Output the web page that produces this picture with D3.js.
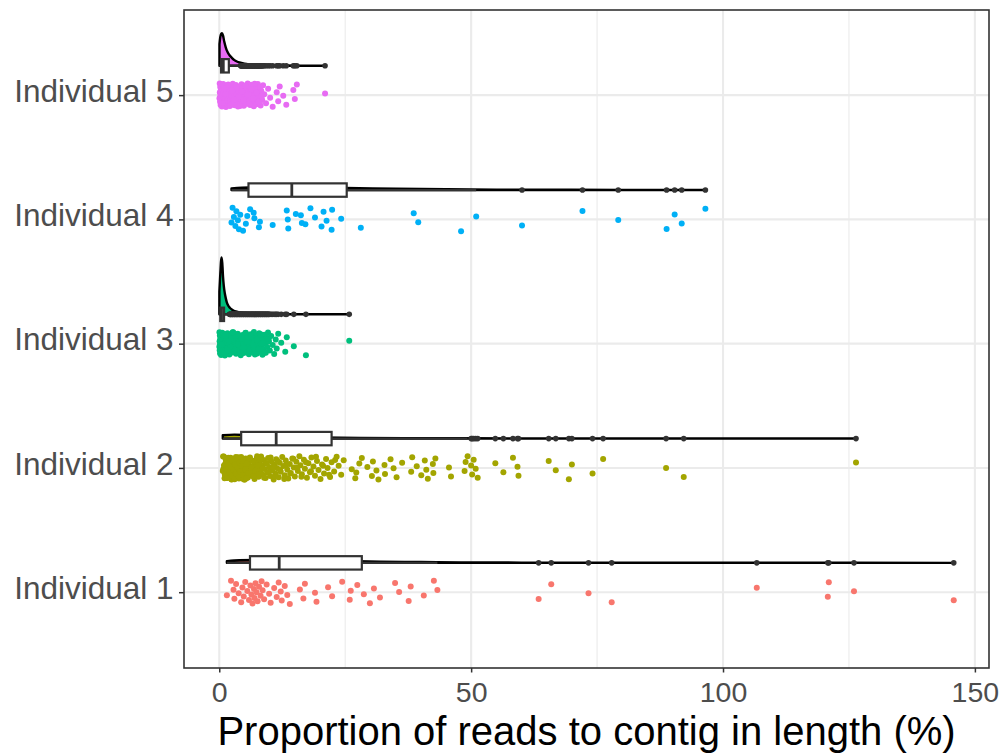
<!DOCTYPE html>
<html><head><meta charset="utf-8">
<script src="https://cdn.jsdelivr.net/npm/d3@7"></script>
<style>body{margin:0;background:#fff}svg{display:block}</style>
</head><body>
<svg id="chart" width="1002" height="755"></svg>
<script>
const categories = ["Individual 1","Individual 2","Individual 3","Individual 4","Individual 5"];
const groupColors = ["#F8766D","#A3A500","#00BF7D","#00B0F6","#E76BF3"];
const xTickValues = [0,50,100,150];
const xMinorValues = [25,75,125];
const xTitle = "Proportion of reads to contig in length (%)";

const values1 = [1.51,2.33,2.83,3.0,3.34,3.85,4.35,4.6,4.86,5.16,5.57,5.9,6.18,6.38,6.6,6.89,7.0,7.19,7.39,7.6,7.9,8.2,8.4,8.6,8.9,9.4,9.9,10.2,10.9,11.4,11.8,12.2,12.4,13.0,13.5,14.0,16.0,16.7,17.0,19.0,19.3,21.6,22.4,24.4,26.1,25.9,27.4,28.7,29.9,30.7,31.9,34.9,35.7,37.6,38.0,40.6,42.6,43.3,63.4,65.9,73.3,77.9,106.7,120.8,121.0,126.0,145.8];
const values2 = [0.7,0.9,1.0,1.1,1.3,1.3,1.4,1.6,1.7,1.8,1.9,2.0,2.1,2.2,2.4,2.5,2.5,2.7,2.8,2.9,3.0,3.2,3.3,3.4,3.5,3.7,3.8,3.9,4.0,4.2,4.3,4.4,4.6,4.7,4.8,5.0,5.1,5.3,5.4,5.5,5.7,5.8,6.0,6.1,6.3,6.5,6.6,6.8,7.0,7.1,7.3,7.4,7.6,7.8,8.0,8.1,8.3,8.5,8.7,8.8,9.0,9.2,9.4,9.6,9.7,9.9,10.1,10.3,10.5,10.8,11.0,11.2,11.3,11.5,11.8,12.0,12.2,12.5,12.7,13.0,13.2,13.5,13.7,14.0,14.2,14.5,14.8,15.0,15.3,15.6,15.9,16.1,16.4,16.8,17.0,17.4,17.7,18.0,18.3,18.7,19.0,19.4,19.7,20.1,20.4,20.8,21.2,21.5,22.0,22.3,22.8,23.3,23.7,24.2,24.7,
  0.8,1.05,1.2,1.45,1.55,1.75,1.95,2.15,2.3,2.45,2.6,2.75,2.95,3.1,3.25,3.45,3.6,3.75,3.95,4.1,4.25,4.5,4.65,4.9,5.05,5.25,5.45,5.6,5.85,6.2,
  0.75,0.95,1.15,1.35,1.5,1.65,1.85,2.05,2.25,2.35,2.55,2.65,2.85,3.05,3.15,3.35,3.55,3.65,3.85,4.05,4.15,4.35,4.55,4.75,4.85,5.15,5.35,5.5,5.75,5.95,6.4,6.7,6.9,7.2,7.5,7.7,7.9,8.2,8.6,8.9,9.3,9.8,10.2,10.7,11.1,11.6,12.1,12.9,13.4,14.1,14.7,15.5,16.3,17.2,18.2,19.2,20.6,21.8,23.0,
  26.3,27.0,27.8,27.2,28.3,29.4,30.3,30.5,31.2,31.6,32.8,32.9,34.0,34.6,35.2,36.3,38.1,38.3,39.2,40.1,40.8,41.1,41.4,42.4,42.5,42.9,45.6,46.0,48.9,48.7,49.3,50.0,50.2,50.5,50.9,51.3,54.8,56.4,58.3,59.2,59.4,65.4,66.8,69.4,70.0,74.1,76.2,88.7,92.2,126.4];
const values3 = [0.02,0.04,0.07,0.09,0.12,0.14,0.16,0.19,0.22,0.24,0.27,0.29,0.31,0.34,0.37,0.39,0.42,0.45,0.47,0.51,0.53,0.56,0.6,0.62,0.66,0.69,0.73,0.77,0.8,0.85,0.88,0.93,0.98,1.01,1.07,1.12,1.16,1.23,1.28,1.34,1.41,1.47,1.53,1.62,1.68,1.77,1.84,1.93,2.01,2.12,2.19,2.3,2.38,2.49,2.57,2.7,2.78,2.91,2.99,3.12,3.21,3.33,3.44,3.56,3.67,3.79,3.92,4.03,4.14,4.27,4.38,4.52,4.63,4.76,4.87,5.01,5.12,5.26,5.38,5.49,5.63,5.74,5.88,6.0,6.13,6.24,6.39,6.51,6.62,6.77,6.88,7.02,7.14,7.27,7.41,7.52,7.66,7.79,7.91,8.06,8.17,8.31,8.44,8.58,8.7,8.83,8.98,9.11,9.24,9.39,9.53,9.68,9.86,10.04,10.3,10.6,10.9,11.2,11.4,11.7,12.3,13.1,13.4,14.8,17.2,25.8,
  3.05,3.38,3.71,4.09,4.45,4.82,5.18,5.56,5.92,6.33,6.7,7.08,7.45,7.84,8.22,8.63,9.05,9.45,2.25,2.65,1.9,1.58,1.2,0.5,0.9,9.8];
const values4 = [2.43,2.64,2.9,3.2,3.4,3.69,3.9,4.17,5.28,6.13,6.97,7.87,6.83,8.07,4.72,5.56,10.6,13.4,13.6,13.7,15.2,16.4,18.1,19.0,20.3,20.7,21.3,22.3,16.2,17.1,22.4,24.2,28.1,38.6,39.5,48.0,51.0,60.1,72.1,79.2,88.8,90.4,91.8,96.5];
const values5 = [0.04,0.09,0.11,0.16,0.19,0.21,0.27,0.29,0.32,0.36,0.39,0.41,0.44,0.47,0.52,0.54,0.57,0.61,0.63,0.67,0.71,0.74,0.78,0.81,0.85,0.88,0.93,0.97,1.02,1.04,1.09,1.15,1.18,1.24,1.27,1.33,1.38,1.44,1.49,1.53,1.61,1.66,1.72,1.79,1.83,1.91,1.97,2.03,2.11,2.16,2.24,2.31,2.37,2.46,2.52,2.61,2.68,2.73,2.84,2.91,2.97,3.08,3.13,3.22,3.31,3.38,3.47,3.55,3.66,3.71,3.82,3.9,3.98,4.07,4.16,4.24,4.35,4.43,4.51,4.62,4.69,4.81,4.88,4.97,5.08,5.17,5.24,5.36,5.43,5.52,5.64,5.71,5.83,5.9,6.02,6.11,6.18,6.29,6.41,6.47,6.58,6.66,6.79,6.85,6.97,7.08,7.14,7.26,7.37,7.45,7.53,7.66,7.74,7.83,7.96,8.07,8.21,8.34,8.52,8.69,8.93,9.28,9.7,10.1,10.6,11.4,11.7,12.0,12.7,13.3,14.7,15.0,15.4,21.0,
  3.02,3.42,3.77,4.12,4.47,4.85,5.2,5.58,5.95,6.34,6.7,7.02,7.4,7.78,8.12,8.45,2.2,2.56,2.88,1.7,1.35,0.6,0.95];

const boxQ1 = [6.1,4.35,0.2,5.8,0.35];
const boxMedian = [11.9,11.3,0.45,14.4,0.8];
const boxQ3 = [28.3,22.3,0.95,25.3,1.9];
const whiskerLow = [1.51,0.7,0.02,2.43,0.04];
const whiskerHigh = [43.3,49.3,2.0,51.0,4.2];

const density1 = [[1.51,0.03],[4,0.045],[8,0.05],[12,0.045],[18,0.038],[25,0.03],[32,0.022],[40,0.014],[48,0.008],[60,0.005],[75,0.003],[90,0.002],[110,0.0015],[125,0.001],[145.8,0.0005]];
const density2 = [[0.7,0.06],[3,0.07],[6,0.06],[10,0.045],[15,0.032],[20,0.022],[28,0.013],[38,0.008],[50,0.005],[65,0.003],[80,0.002],[100,0.001],[126.4,0.0005]];
const density3 = [[0.02,0.40],[0.2,0.7],[0.35,0.93],[0.47,1.0],[0.6,0.9],[0.75,0.66],[0.9,0.5],[1.1,0.37],[1.3,0.28],[1.5,0.21],[1.8,0.15],[2.1,0.115],[2.5,0.085],[2.8,0.068],[3.3,0.05],[3.8,0.04],[4.5,0.03],[5.5,0.022],[7,0.015],[9,0.01],[11,0.007],[14,0.004],[18,0.002],[22,0.001],[25.8,0.0005]];
const density4 = [[2.43,0.03],[6,0.045],[12,0.05],[18,0.045],[25,0.035],[35,0.022],[45,0.013],[55,0.008],[65,0.005],[80,0.004],[90,0.004],[96.5,0.003]];
const density5 = [[0.04,0.38],[0.2,0.5],[0.4,0.565],[0.55,0.574],[0.75,0.53],[1.0,0.42],[1.3,0.32],[1.6,0.25],[2.0,0.19],[2.5,0.14],[3.0,0.1],[3.5,0.075],[4.0,0.058],[5.0,0.037],[6.0,0.025],[8.0,0.013],[10,0.008],[13,0.004],[16,0.002],[21,0.0005]];

const allValues = [values1,values2,values3,values4,values5];
const allDensity = [density1,density2,density3,density4,density5];

const panel = {left:184, right:989, top:10, bottom:668};
const x = d3.scaleLinear().domain([-7.0,152.8]).range([panel.left,panel.right]);
const y = d3.scaleLinear().domain([0.39,5.685]).range([panel.bottom,panel.top]);
const slabH = d3.scaleLinear().domain([0,1]).range([0,57]);
const boxOffset = 0.236;
const boxHalf = 6.7;
const jitterAmp = 0.095;
const font = "'Liberation Sans', Arial, Helvetica, sans-serif";

const svg = d3.select("#chart");
svg.append("rect").attr("width",1002).attr("height",755).attr("fill","#fff");

const grid = svg.append("g");
grid.selectAll("line.minor").data(xMinorValues).join("line")
  .attr("x1",d=>x(d)).attr("x2",d=>x(d)).attr("y1",panel.top).attr("y2",panel.bottom)
  .attr("stroke","#EBEBEB").attr("stroke-width",1.1);
grid.selectAll("line.majx").data(xTickValues).join("line")
  .attr("x1",d=>x(d)).attr("x2",d=>x(d)).attr("y1",panel.top).attr("y2",panel.bottom)
  .attr("stroke","#EBEBEB").attr("stroke-width",2.1);
grid.selectAll("line.majy").data(d3.range(1,categories.length+1)).join("line")
  .attr("x1",panel.left).attr("x2",panel.right).attr("y1",d=>y(d)).attr("y2",d=>y(d))
  .attr("stroke","#EBEBEB").attr("stroke-width",2.1);

const jit = i => (((i*0.6180339887 + 0.37) % 1) * 2 - 1);
const area = d3.area().curve(d3.curveMonotoneX);

categories.forEach((cat,k)=>{
  const vals = allValues[k];
  const col = groupColors[k];
  const base = y(k+1+boxOffset);
  const g = svg.append("g");
  area.x(d=>x(d[0])).y0(base).y1(d=>base - slabH(d[1]));
  g.append("path").datum(allDensity[k]).attr("d",area)
    .attr("fill",col).attr("stroke","#000").attr("stroke-width",2.4).attr("stroke-linejoin","round");
  g.append("line").attr("x1",x(whiskerLow[k])).attr("x2",x(boxQ1[k])).attr("y1",base).attr("y2",base)
    .attr("stroke","#333").attr("stroke-width",2.2);
  g.append("line").attr("x1",x(boxQ3[k])).attr("x2",x(whiskerHigh[k])).attr("y1",base).attr("y2",base)
    .attr("stroke","#333").attr("stroke-width",2.2);
  g.append("rect").attr("x",x(boxQ1[k])).attr("y",base-boxHalf)
    .attr("width",x(boxQ3[k])-x(boxQ1[k])).attr("height",2*boxHalf)
    .attr("fill","#fff").attr("stroke","#333").attr("stroke-width",2.2);
  g.append("line").attr("x1",x(boxMedian[k])).attr("x2",x(boxMedian[k]))
    .attr("y1",base-boxHalf).attr("y2",base+boxHalf).attr("stroke","#333").attr("stroke-width",2.8);
  g.selectAll("circle.out").data(vals.filter(v=>v>whiskerHigh[k]||v<whiskerLow[k])).join("circle")
    .attr("cx",d=>x(d)).attr("cy",base).attr("r",2.8).attr("fill","#333");
  g.selectAll("circle.pt").data(vals).join("circle")
    .attr("cx",d=>x(d)).attr("cy",(d,i)=>y(k+1+jit(i)*jitterAmp)).attr("r",3).attr("fill",col);
});

svg.append("rect").attr("x",panel.left).attr("y",panel.top)
  .attr("width",panel.right-panel.left).attr("height",panel.bottom-panel.top)
  .attr("fill","none").attr("stroke","#333").attr("stroke-width",1.6);

const xAxis = svg.append("g").attr("transform",`translate(0,${panel.bottom})`)
  .call(d3.axisBottom(x).tickValues(xTickValues).tickSize(4.5).tickPadding(9.3));
const yAxis = svg.append("g").attr("transform",`translate(${panel.left},0)`)
  .call(d3.axisLeft(y).tickValues(d3.range(1,categories.length+1)).tickFormat(i=>categories[i-1]).tickSize(5).tickPadding(5.5));
[xAxis,yAxis].forEach(a=>{
  a.select(".domain").remove();
  a.selectAll(".tick line").attr("stroke","#333").attr("stroke-width",1.5);
  a.selectAll(".tick text").attr("fill","#4D4D4D").style("font-family",font);
});
xAxis.selectAll(".tick text").style("font-size","28.5px");
yAxis.selectAll(".tick text").style("font-size","31.5px").attr("dy","0.2em");

svg.append("text").attr("x",(panel.left+panel.right)/2).attr("y",745)
  .attr("text-anchor","middle").attr("fill","#000")
  .style("font-family",font).style("font-size","40px").text(xTitle);
</script></body></html>
